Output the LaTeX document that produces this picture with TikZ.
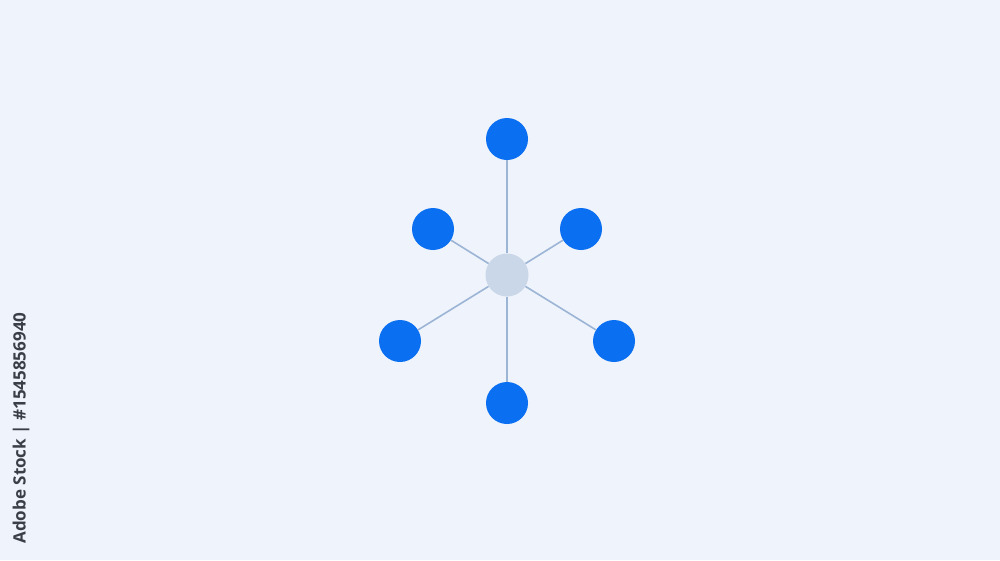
\documentclass[tikz,border=0pt]{standalone}
\usepackage{fontspec}
\newfontfamily\sidefont{Open Sans}
\definecolor{bg}{HTML}{EEF3FC}
\definecolor{hubblue}{HTML}{0A6FF0}
\definecolor{hubgray}{HTML}{CAD7E8}
\definecolor{spoke}{HTML}{9DB5D5}
\definecolor{sidetext}{HTML}{3A3F47}
\begin{document}
\begin{tikzpicture}[x=1pt,y=-1pt,
  leaf/.style={circle,fill=hubblue,draw=none,minimum size=42pt,inner sep=0pt},
  hub/.style={circle,fill=hubgray,draw=none,minimum size=43pt,inner sep=0pt},
  link/.style={draw=spoke,line width=1.6pt}]
\fill[bg] (0,0) rectangle (1000,560);
\useasboundingbox (0,0) rectangle (1000,560);
\node[hub] (c) at (507,275) {};
\node[leaf] (t) at (507,139) {};
\node[leaf] (ul) at (433,229) {};
\node[leaf] (ur) at (581,229) {};
\node[leaf] (ll) at (400,341) {};
\node[leaf] (lr) at (614,341) {};
\node[leaf] (b) at (507,403) {};
\foreach \n in {t,ul,ur,ll,lr,b} \draw[link] (c) -- (\n);
\node[rotate=90,anchor=center,text=sidetext,font=\sidefont\bfseries\fontsize{17}{19}\selectfont,inner sep=0pt] (side) at (21,428) {Adobe Stock | \#1545856940};
\end{tikzpicture}
\end{document}
